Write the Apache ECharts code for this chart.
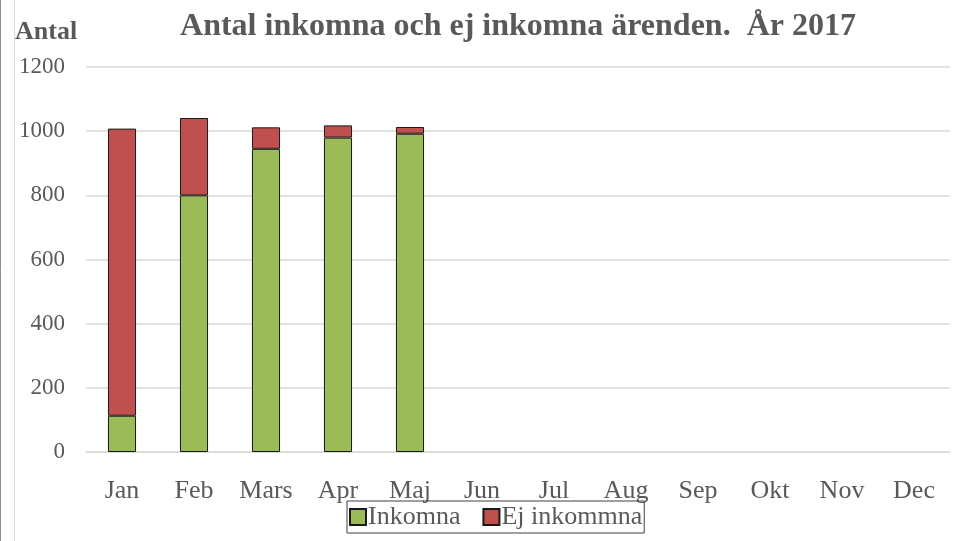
<!DOCTYPE html>
<html>
<head>
<meta charset="utf-8">
<script src="https://cdn.jsdelivr.net/npm/echarts@6/dist/echarts.min.js"></script>
<style>
  html, body { margin: 0; padding: 0; background: #fff; }
  #main { width: 966px; height: 541px; }
</style>
</head>
<body>
<div id="main"></div>
<script>
var months = ["Jan", "Feb", "Mars", "Apr", "Maj", "Jun", "Jul", "Aug", "Sep", "Okt", "Nov", "Dec"];
var inkomna = [113, 800, 945, 980, 992, null, null, null, null, null, null, null];
var ejInkomna = [895, 241, 67, 38, 21, null, null, null, null, null, null, null];

var font = "'Liberation Serif', 'Times New Roman', serif";
var myChart = echarts.init(document.getElementById("main"));
var option = {
  animation: false,
  title: {
    text: "Antal inkomna och ej inkomna ärenden.  År 2017",
    left: 513,
    textAlign: "center",
    top: 6,
    textStyle: { fontFamily: font, fontSize: 32, fontWeight: "bold", color: "#595959" },
  },
  grid: { left: 86, right: 16, top: 67, bottom: 89, containLabel: false },
  legend: {
    top: 501,
    left: 347,
    icon: "rect",
    itemWidth: 16,
    itemHeight: 16,
    itemGap: 22,
    padding: [3, 2, 3, 2],
    borderColor: "#404040",
    borderWidth: 1,
    textStyle: { fontFamily: font, fontSize: 26, color: "#595959", padding: [0, 0, 0, -3] },
    data: ["Inkomna", "Ej inkommna"],
  },
  xAxis: {
    type: "category",
    data: months,
    axisLine: { lineStyle: { color: "#d9d9d9" } },
    axisTick: { show: false },
    axisLabel: { fontFamily: font, fontSize: 26, color: "#595959", margin: 26 },
  },
  yAxis: {
    type: "value",
    name: "Antal",
    nameLocation: "end",
    nameGap: 22,
    nameTextStyle: { fontFamily: font, fontSize: 26, fontWeight: "bold", color: "#595959", align: "left", padding: [0, 0, 0, -71] },
    min: 0,
    max: 1200,
    interval: 200,
    axisLine: { show: false },
    axisTick: { show: false },
    axisLabel: {
      fontFamily: font, fontSize: 23, color: "#595959", margin: 21,
      formatter: function (v) { return String(v); },
    },
    splitLine: { lineStyle: { color: "#d9d9d9", width: 1.5 } },
  },
  series: [
    {
      name: "Inkomna",
      type: "bar",
      stack: "total",
      barWidth: "39%",
      data: inkomna,
      itemStyle: { color: "#9bbb59", borderColor: "#1a1a1a", borderWidth: 1 },
    },
    {
      name: "Ej inkommna",
      type: "bar",
      stack: "total",
      barWidth: "39%",
      data: ejInkomna,
      itemStyle: { color: "#c0504d", borderColor: "#1a1a1a", borderWidth: 1 },
    },
  ],
  graphic: [
    { type: "line", shape: { x1: 0.5, y1: 0, x2: 0.5, y2: 541 }, style: { stroke: "#8c8c8c", lineWidth: 1 } },
    { type: "line", shape: { x1: 14.5, y1: 0, x2: 14.5, y2: 541 }, style: { stroke: "#d9d9d9", lineWidth: 1 } },
  ],
};
myChart.setOption(option);
</script>
</body>
</html>
